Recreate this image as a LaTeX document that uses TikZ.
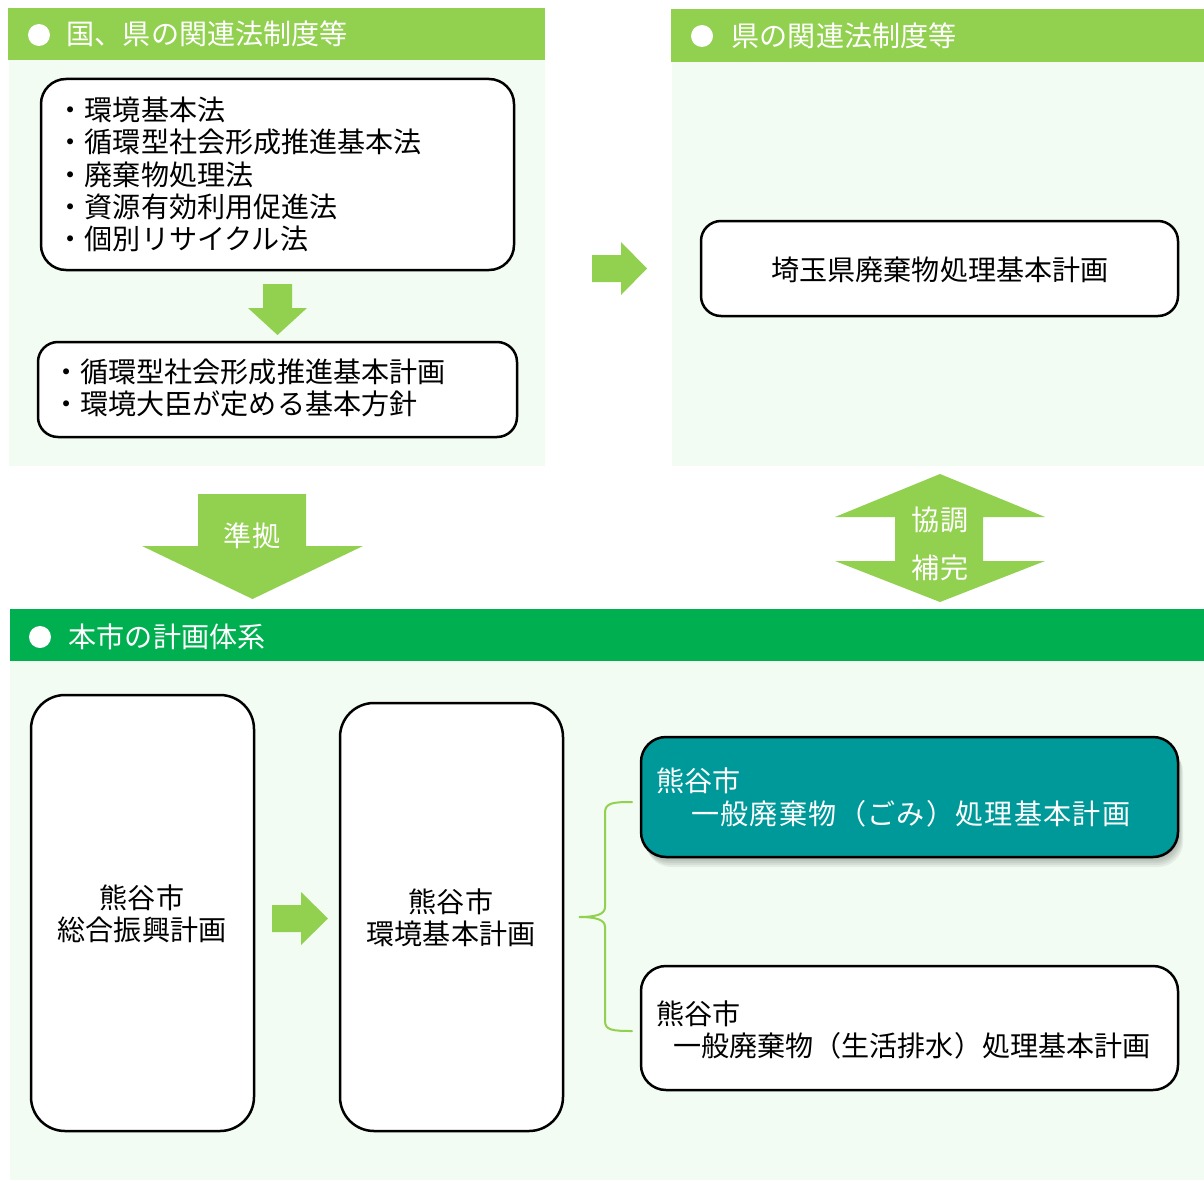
\documentclass[tikz,border=0pt]{standalone}
\usepackage{fontspec}
\setmainfont{Noto Sans CJK JP}
\definecolor{lgreen}{HTML}{92D050}
\definecolor{dgreen}{HTML}{00B050}
\definecolor{tealbox}{HTML}{009999}
\definecolor{mint}{HTML}{F2FCF2}
\newcommand\jfont{\fontsize{28.1}{32}\selectfont}
\tikzset{
  box/.style={draw=black, line width=2.5pt, fill=white, inner sep=0pt},
  txt/.style={inner sep=0pt, font=\jfont, anchor=base west, yshift=-1.5pt},
  ctxt/.style={inner sep=0pt, font=\jfont, anchor=base, yshift=-1.5pt},
  wtxt/.style={txt, text=white},
  bigarrow/.style={fill=lgreen, draw=none},
  bullet/.style={circle, fill=white, draw=none, inner sep=0pt, minimum size=22pt},
  bracestyle/.style={draw=lgreen, line width=2pt, line cap=round}
}
\begin{document}
\begin{tikzpicture}[x=1pt,y=-1pt]
\useasboundingbox (0,0) rectangle (1204,1180);
\fill[white] (0,0) rectangle (1204,1180);

% panels
\fill[mint] (9,60) rectangle (545,466);
\fill[lgreen] (8,8) rectangle (545,60);
\fill[mint] (672,62) rectangle (1204,466);
\fill[lgreen] (671,9) rectangle (1204,62);
\fill[mint] (10,661) rectangle (1204,1180);
\fill[dgreen] (10,609) rectangle (1204,661);

% headers
\node[bullet] (b1) at (39,35) {};
\node[wtxt] (h1) at (66.5,43.5) {国、県の関連法制度等};
\node[bullet] (b2) at (702,36) {};
\node[wtxt] (h2) at (731.5,45) {県の関連法制度等};
\node[bullet] (b3) at (40,637) {};
\node[wtxt] (h3) at (68.5,646) {本市の計画体系};

% top-left boxes
\node[box, rounded corners=25pt, minimum width=473pt, minimum height=191pt] (law) at (277.5,174.5) {};
\node[txt] (l1) at (56.5,119.5) {・環境基本法};
\node[txt] (l2) at (56.5,151.5) {・循環型社会形成推進基本法};
\node[txt] (l3) at (56.5,183.5) {・廃棄物処理法};
\node[txt] (l4) at (56.5,215.5) {・資源有効利用促進法};
\node[txt] (l5) at (56.5,247.5) {・個別リサイクル法};

\node[box, rounded corners=20pt, minimum width=479pt, minimum height=95pt] (plan) at (277.5,389.5) {};
\node[txt] (p1) at (52,381) {・循環型社会形成推進基本計画};
\node[txt] (p2) at (52,413) {・環境大臣が定める基本方針};

% down arrow between law and plan
\fill[bigarrow] (263,284) -- (292,284) -- (292,308) -- (307,308) -- (277.5,335) -- (248,308) -- (263,308) -- cycle;

% right arrow to prefecture
\fill[bigarrow] (592,255) -- (621,255) -- (621,242) -- (647,268.5) -- (621,295) -- (621,282) -- (592,282) -- cycle;

% prefecture box
\node[box, rounded corners=20pt, minimum width=477pt, minimum height=95pt] (pref) at (939.5,268.5) {};
\node[ctxt] (pt) at (940,279) {埼玉県廃棄物処理基本計画};

% 準拠 arrow
\fill[bigarrow] (198,494) -- (306,494) -- (306,546) -- (363,546) -- (252.5,599) -- (142,546) -- (198,546) -- cycle;
\node[ctxt, text=white] (jk) at (252,545) {準拠};

% double arrow
\fill[bigarrow] (940,474) -- (1045,517) -- (983,517) -- (983,561) -- (1045,561) -- (940,602) -- (835,561) -- (895,561) -- (895,517) -- (835,517) -- cycle;
\node[ctxt, text=white] (kc) at (940,529) {協調};
\node[ctxt, text=white] (hk) at (940,577) {補完};

% bottom boxes
\node[box, rounded corners=34pt, minimum width=223pt, minimum height=436pt] (sogo) at (142.5,913) {};
\node[ctxt] (s1) at (142,907) {熊谷市};
\node[ctxt] (s2) at (142,939) {総合振興計画};

\fill[bigarrow] (272,905) -- (301,905) -- (301,892) -- (328,918.5) -- (301,945) -- (301,932) -- (272,932) -- cycle;

\node[box, rounded corners=34pt, minimum width=223pt, minimum height=428pt] (kankyo) at (451.5,917) {};
\node[ctxt] (k1) at (451,911) {熊谷市};
\node[ctxt] (k2) at (451,943) {環境基本計画};

% brace
\draw[bracestyle] (632,802) .. controls (612,802) and (605,803) .. (605,813)
  -- (605,907) .. controls (605,914) and (597,917) .. (579,917)
  .. controls (597,917) and (605,920) .. (605,927)
  -- (605,1021) .. controls (605,1030) and (612,1031) .. (632,1031);

% shadow for teal box
\foreach \dx/\dy in {1/2,2/4,3/6,4/8,5/10}
  \fill[black, opacity=0.06, rounded corners=25pt] (641+\dx,737+\dy) rectangle (1178+\dx,857+\dy);

\node[box, fill=tealbox, rounded corners=25pt, minimum width=537pt, minimum height=120pt] (gomi) at (909.5,797) {};
\node[wtxt] (g1) at (656.5,790) {熊谷市};
\node[wtxt] (g2) at (691,822.5) {\addfontfeatures{LetterSpace=4.5}一般廃棄物（ごみ）処理基本計画};

\node[box, rounded corners=25pt, minimum width=537pt, minimum height=124pt] (haisui) at (909.5,1028) {};
\node[txt] (w1) at (656.5,1023) {熊谷市};
\node[txt] (w2) at (672.8,1055) {一般廃棄物（生活排水）処理基本計画};
\end{tikzpicture}
\end{document}
